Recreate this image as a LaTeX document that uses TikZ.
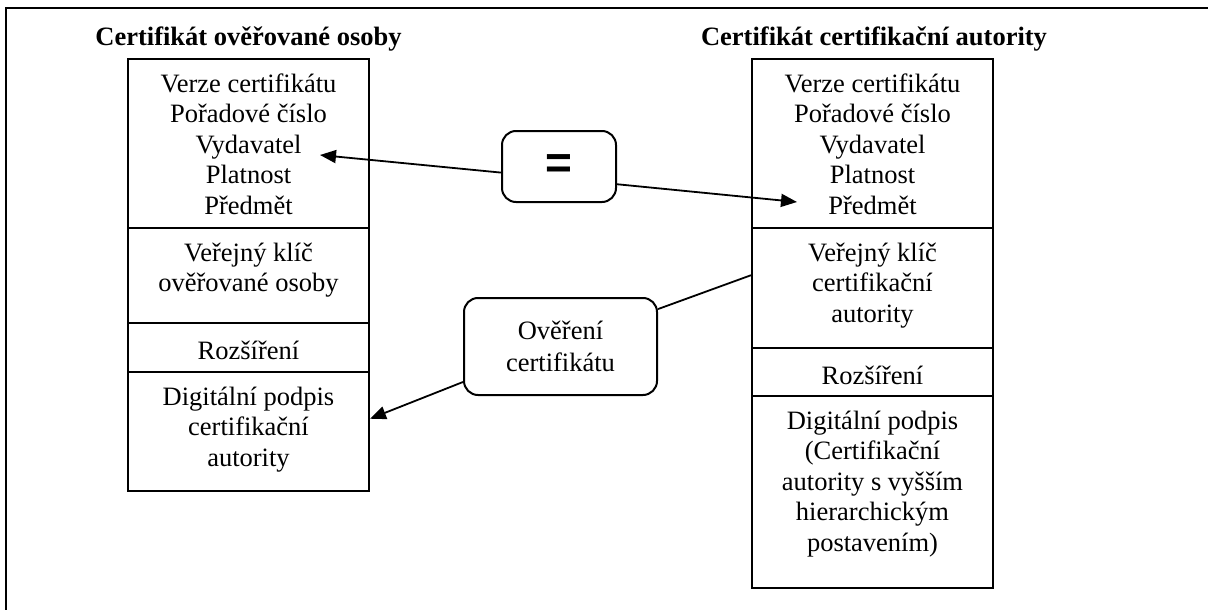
\documentclass[tikz,border=0pt]{standalone}
\usepackage{fontspec}
\setmainfont{Liberation Serif}
\newfontfamily\eqfont{Liberation Sans}
\usetikzlibrary{arrows.meta}
\begin{document}
\begin{tikzpicture}[x=1pt,y=-1pt,
  section/.style={draw, line width=2pt, minimum width=241pt, inner sep=0pt, anchor=north},
  fieldtext/.style={anchor=north, inner sep=0pt, align=center,
    font=\fontsize{26.5pt}{30.5pt}\selectfont, execute at begin node=\strut, yshift=-15.5pt},
  heading/.style={anchor=base, inner sep=0pt, font=\fontsize{26.5pt}{30pt}\selectfont\bfseries},
  bubble/.style={draw, line width=2pt, rounded corners=14pt, inner sep=0pt},
  link/.style={line width=1.8pt},
  arrowlink/.style={link, -{Triangle[length=16pt,width=13pt]}}]
\useasboundingbox (0,0) rectangle (1208,610);

% outer frame (only the top and left edges fall inside the page)
\draw[line width=2.8pt] (1208,8) -- (6,8) -- (6,610);

% headings
\node[heading] (hl) at (248.5,46) {Certifikát ověřované osoby};
\node[heading] (hr) at (874,46) {Certifikát certifikační autority};

% left certificate
\node[section, minimum height=169pt] (L1) at (248.5,58) {};
\node[section, minimum height=95pt]  (L2) at (248.5,227) {};
\node[section, minimum height=49pt]  (L3) at (248.5,322) {};
\node[section, minimum height=119pt] (L4) at (248.5,371) {};
\node[fieldtext] (l1t) at (L1.north) {Verze certifikátu\\Pořadové číslo\\Vydavatel\\Platnost\\Předmět};
\node[fieldtext] (l2t) at (L2.north) {Veřejný klíč\\ověřované osoby};
\node[fieldtext] (l3t) at (L3.north) {Rozšíření};
\node[fieldtext] (l4t) at (L4.north) {Digitální podpis\\certifikační\\autority};

% right certificate
\node[section, minimum height=169pt] (R1) at (872.5,58) {};
\node[section, minimum height=120pt] (R2) at (872.5,227) {};
\node[section, minimum height=48pt]  (R3) at (872.5,347) {};
\node[section, minimum height=192pt] (R4) at (872.5,395) {};
\node[fieldtext] (r1t) at (R1.north) {Verze certifikátu\\Pořadové číslo\\Vydavatel\\Platnost\\Předmět};
\node[fieldtext] (r2t) at (R2.north) {Veřejný klíč\\certifikační\\autority};
\node[fieldtext] (r3t) at (R3.north) {Rozšíření};
\node[fieldtext] (r4t) at (R4.north) {Digitální podpis\\(Certifikační\\autority s vyšším\\hierarchickým\\postavením)};

% comparison and verification bubbles
\node[bubble, minimum width=114pt, minimum height=71pt] (eq) at (559,166.5)
  {\eqfont\bfseries\fontsize{46pt}{46pt}\selectfont =};
\node[bubble, minimum width=193pt, minimum height=97pt, align=center,
  font=\fontsize{26.5pt}{32pt}\selectfont] (ver) at (560.5,346.5) {Ověření\\certifikátu};

% arrow targets next to the field names
\coordinate (issuer) at (320,155);
\coordinate (subject) at (797,202);

% connectors
\draw[arrowlink] (eq.186) -- (issuer);
\draw[arrowlink] (eq.343) -- (subject);
\draw[link] (R2.174) -- (ver.21);
\draw[arrowlink] (ver.200) -- (L4.6);
\end{tikzpicture}
\end{document}
